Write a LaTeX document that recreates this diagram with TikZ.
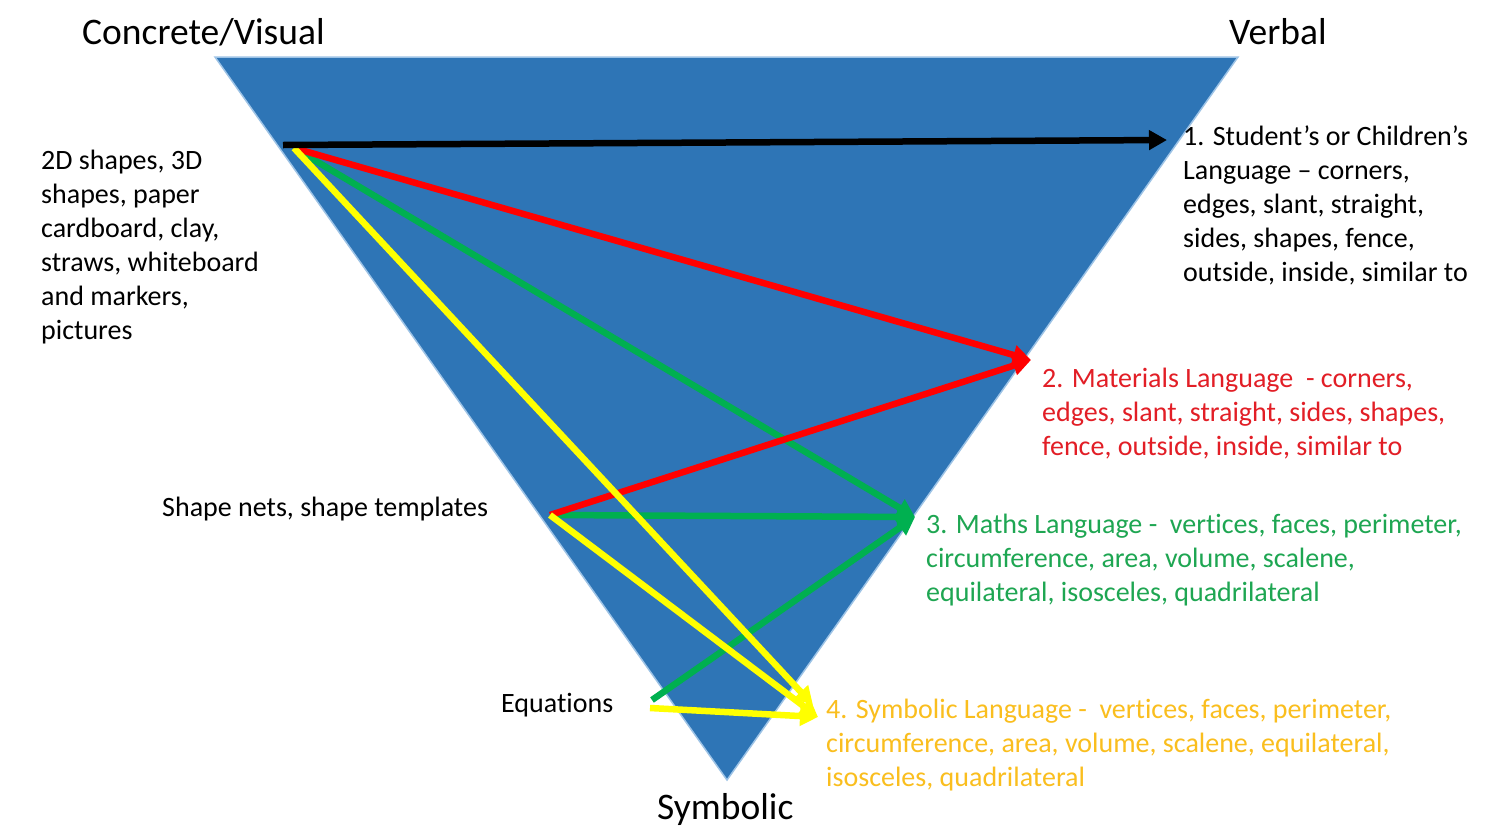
\documentclass[tikz,border=0pt]{standalone}
\usepackage{fontspec}
\setmainfont[Ligatures={NoCommon}]{Carlito}
\usetikzlibrary{arrows.meta}
\definecolor{triblue}{RGB}{46,117,182}
\definecolor{triedge}{RGB}{157,195,230}
\definecolor{txtred}{RGB}{226,30,38}
\definecolor{txtgreen}{RGB}{30,166,82}
\definecolor{txtgold}{RGB}{250,190,30}
\definecolor{arred}{RGB}{255,0,0}
\definecolor{argreen}{RGB}{0,176,80}
\definecolor{aryellow}{RGB}{255,255,0}
\newcommand\txtlines[1]{\begin{tabular}[t]{@{}l@{}}#1\end{tabular}}
\tikzset{
  title/.style={anchor=base west,inner sep=0pt,font=\fontsize{37.5}{45}\selectfont},
  body/.style={anchor=base west,inner sep=0pt,font=\fontsize{28}{34}\selectfont},
  arr/.style={line width=6.5pt,-{Triangle[length=18pt,width=19pt]}},
}
\begin{document}
\begin{tikzpicture}[x=1pt,y=-1pt]
\useasboundingbox (0,0) rectangle (1488,828);
\fill[white] (0,0) rectangle (1488,828);
% triangle
\filldraw[fill=triblue,draw=triedge,line width=1.5pt,line join=miter] (215,57) -- (1238,57) -- (727,780) -- cycle;
% titles
\node[title] (cv) at (82,44) {Concrete/Visual};
\node[title] (vb) at (1229,44) {Verbal};
\node[title] (sy) at (657,819) {Symbolic};
% left texts
\node[body] (mat) at (41,169) {\txtlines{2D shapes, 3D\\shapes, paper\\cardboard, clay,\\straws, whiteboard\\and markers,\\pictures}};
\node[body] (nets) at (162,516) {Shape nets, shape templates};
\node[body] (eqn) at (501,712) {Equations};
% right texts
\node[body] (l1) at (1183,145) {\txtlines{1. Student’s or Children’s\\Language – corners,\\edges, slant, straight,\\sides, shapes, fence,\\outside, inside, similar to}};
\node[body,text=txtred] (l2) at (1042,387) {\txtlines{2. Materials Language\ \ - corners,\\edges, slant, straight, sides, shapes,\\fence, outside, inside, similar to}};
\node[body,text=txtgreen] (l3) at (926,533) {\txtlines{3. Maths Language -\ \ vertices, faces, perimeter,\\circumference, area, volume, scalene,\\equilateral, isosceles, quadrilateral}};
\node[body,text=txtgold] (l4) at (826,718) {\txtlines{4. Symbolic Language -\ \ vertices, faces, perimeter,\\circumference, area, volume, scalene, equilateral,\\isosceles, quadrilateral}};
% anchor points
\coordinate (s0) at (283,145);
\coordinate (s1) at (294,148);
\coordinate (s2) at (550,515);
\coordinate (s3g) at (652,700);
\coordinate (s3y) at (650,708);
\coordinate (t1) at (1167,140);
\coordinate (t2) at (1031,360);
\coordinate (t3) at (915,517);
\coordinate (t4a) at (813,705);
\coordinate (t4b) at (818,717);
% arrows
\draw[arr,argreen] (s1) -- (t3);
\draw[arr,argreen] (s2) -- (t3);
\draw[arr,argreen] (s3g) -- (t3);
\draw[arr,arred] (s1) -- (t2);
\draw[arr,arred] (s2) -- (t2);
\draw[arr,aryellow] (s1) -- (t4a);
\draw[arr,aryellow] (s2) -- (t4b);
\draw[arr,aryellow] (s3y) -- (t4b);
\draw[arr,black] (s0) -- (t1);
\end{tikzpicture}
\end{document}
